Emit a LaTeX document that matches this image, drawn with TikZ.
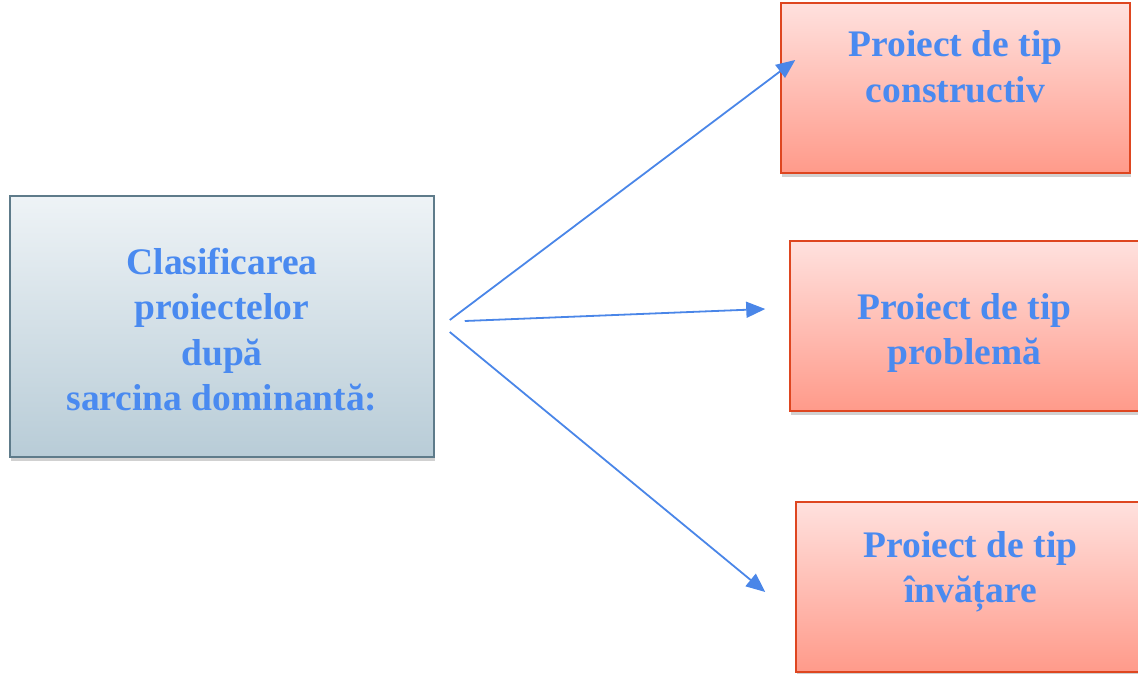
\documentclass[tikz,border=0pt]{standalone}
\usepackage{fontspec}
\setmainfont{Liberation Serif}
\usetikzlibrary{arrows.meta, positioning, calc, shadows}
\usepackage{xcolor}
\definecolor{txtblue}{HTML}{4A8AF0}
\definecolor{arrblue}{HTML}{4A86E8}
\definecolor{greytop}{HTML}{EEF3F6}
\definecolor{greybot}{HTML}{B8CCD7}
\definecolor{greyedge}{HTML}{5E7B8A}
\definecolor{redtop}{HTML}{FFE1DE}
\definecolor{redbot}{HTML}{FF9A8A}
\definecolor{rededge}{HTML}{DE4620}

\begin{document}
\begin{tikzpicture}[
    x=1pt, y=-1pt,
    srcbox/.style={draw=greyedge, line width=1.5pt, top color=greytop, bottom color=greybot,
        minimum width=424pt, minimum height=261pt, align=center,
        font=\fontsize{37.5}{45.5}\selectfont\bfseries, text=txtblue,
        drop shadow={shadow xshift=1pt, shadow yshift=-4pt, opacity=.3, fill=black!60}},
    catbox/.style={draw=rededge, line width=1.5pt, top color=redtop, bottom color=redbot,
        minimum width=349pt, minimum height=170pt, align=center,
        font=\fontsize{37.5}{45.5}\selectfont\bfseries, text=txtblue,
        drop shadow={shadow xshift=1pt, shadow yshift=-4pt, opacity=.3, fill=black!60}},
    arrow/.style={-{Triangle[length=19pt, width=16pt]}, line width=1.8pt, arrblue}
]
\useasboundingbox (0, 0) rectangle (1138, 674);

% Left box
\node[srcbox, text height=168pt, text depth=0pt] (clasif) at (222, 326.5)
    {Clasificarea\\proiectelor\\după\\sarcina dominantă:};

% Right boxes
\node[catbox, text height=71pt, text depth=42pt] (constr) at (955.5, 88) {Proiect de tip\\constructiv};
\node[catbox, text height=85pt, text depth=8pt] (probl) at (964.5, 326) {Proiect de tip\\problemă};
\node[catbox, text height=71pt, text depth=40pt] (invat) at (970.5, 587) {Proiect de tip\\învățare};

% Arrow ends
\coordinate (out1) at ($(clasif.east)+(15,-6.5)$);
\coordinate (out2) at ($(clasif.east)+(30,-5.5)$);
\coordinate (out3) at ($(clasif.east)+(15,5.5)$);
\coordinate (in1) at ($(constr.west)+(15,-28)$);
\coordinate (in2) at ($(probl.west)+(-24,-17)$);
\coordinate (in3) at ($(invat.west)+(-30,5)$);

\draw[arrow] (out1) -- (in1);
\draw[arrow] (out2) -- (in2);
\draw[arrow] (out3) -- (in3);

\end{tikzpicture}
\end{document}
